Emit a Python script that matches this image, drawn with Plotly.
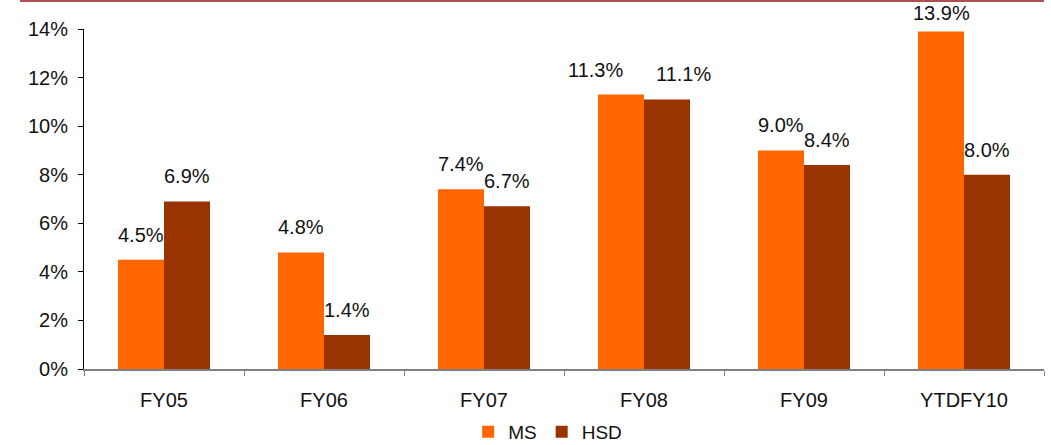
import plotly.graph_objects as go

categories = ["FY05", "FY06", "FY07", "FY08", "FY09", "YTDFY10"]
ms_values = [0.045, 0.048, 0.074, 0.113, 0.090, 0.139]
hsd_values = [0.069, 0.014, 0.067, 0.111, 0.084, 0.080]
y_ticks = [0, 0.02, 0.04, 0.06, 0.08, 0.10, 0.12, 0.14]

# styling
MS_COLOR = "#FF6600"
HSD_COLOR = "#993300"
FONT = dict(family="Liberation Sans, Arial, sans-serif", size=20, color="#111111")
W, H = 1051, 445
M = dict(l=84, r=7, t=29, b=76)
Y_MAX = 0.14
BARGAP = 0.425
LABEL_GAP = 12
label_nudge = {("FY08", "MS"): -26, ("FY08", "HSD"): 16}

fig = go.Figure()
fig.add_bar(x=categories, y=ms_values, name="MS", marker_color=MS_COLOR,
            marker_line_width=0)
fig.add_bar(x=categories, y=hsd_values, name="HSD", marker_color=HSD_COLOR,
            marker_line_width=0)

plot_w = W - M["l"] - M["r"]
plot_h = H - M["t"] - M["b"]
cat_w = plot_w / len(categories)
bar_w = cat_w * (1 - BARGAP) / 2

for series, vals, sign in (("MS", ms_values, -1), ("HSD", hsd_values, 1)):
    for cat, v in zip(categories, vals):
        bar_top_px = M["t"] + (Y_MAX - v) / Y_MAX * plot_h
        shift = min(LABEL_GAP, bar_top_px - 26)
        fig.add_annotation(x=cat, y=v, xref="x", yref="y", text=f"{v*100:.1f}%",
                           showarrow=False, yanchor="bottom", yshift=shift,
                           xshift=sign * bar_w / 2 + label_nudge.get((cat, series), 0),
                           font=FONT)

fig.update_layout(
    width=W, height=H,
    margin=dict(**M, autoexpand=False),
    paper_bgcolor="white", plot_bgcolor="white",
    barmode="group", bargap=BARGAP, bargroupgap=0,
    font=FONT,
    showlegend=True,
    legend=dict(orientation="h", x=0.483, xanchor="center", y=-0.185, yanchor="middle",
                font=dict(size=19), itemwidth=30, traceorder="normal"),
)
fig.update_yaxes(range=[0, Y_MAX], tickvals=y_ticks, tickformat=".0%",
                 showgrid=False, showline=True, linecolor="black", linewidth=1,
                 ticks="outside", ticklen=5, tickcolor="black", zeroline=False,
                 tickfont=FONT, ticklabelstandoff=6)
fig.update_xaxes(showgrid=False, showline=True, linecolor="#808080", linewidth=2,
                 ticks="outside", ticklen=5, tickcolor="#808080", tickson="boundaries",
                 tickfont=FONT, ticklabelstandoff=12)
fig.add_shape(type="line", xref="paper", yref="paper", x0=-64 / plot_w, x1=1.0,
              y0=1 + 28 / plot_h, y1=1 + 28 / plot_h, line=dict(color="#B05050", width=2))

fig.write_html("out.html")
